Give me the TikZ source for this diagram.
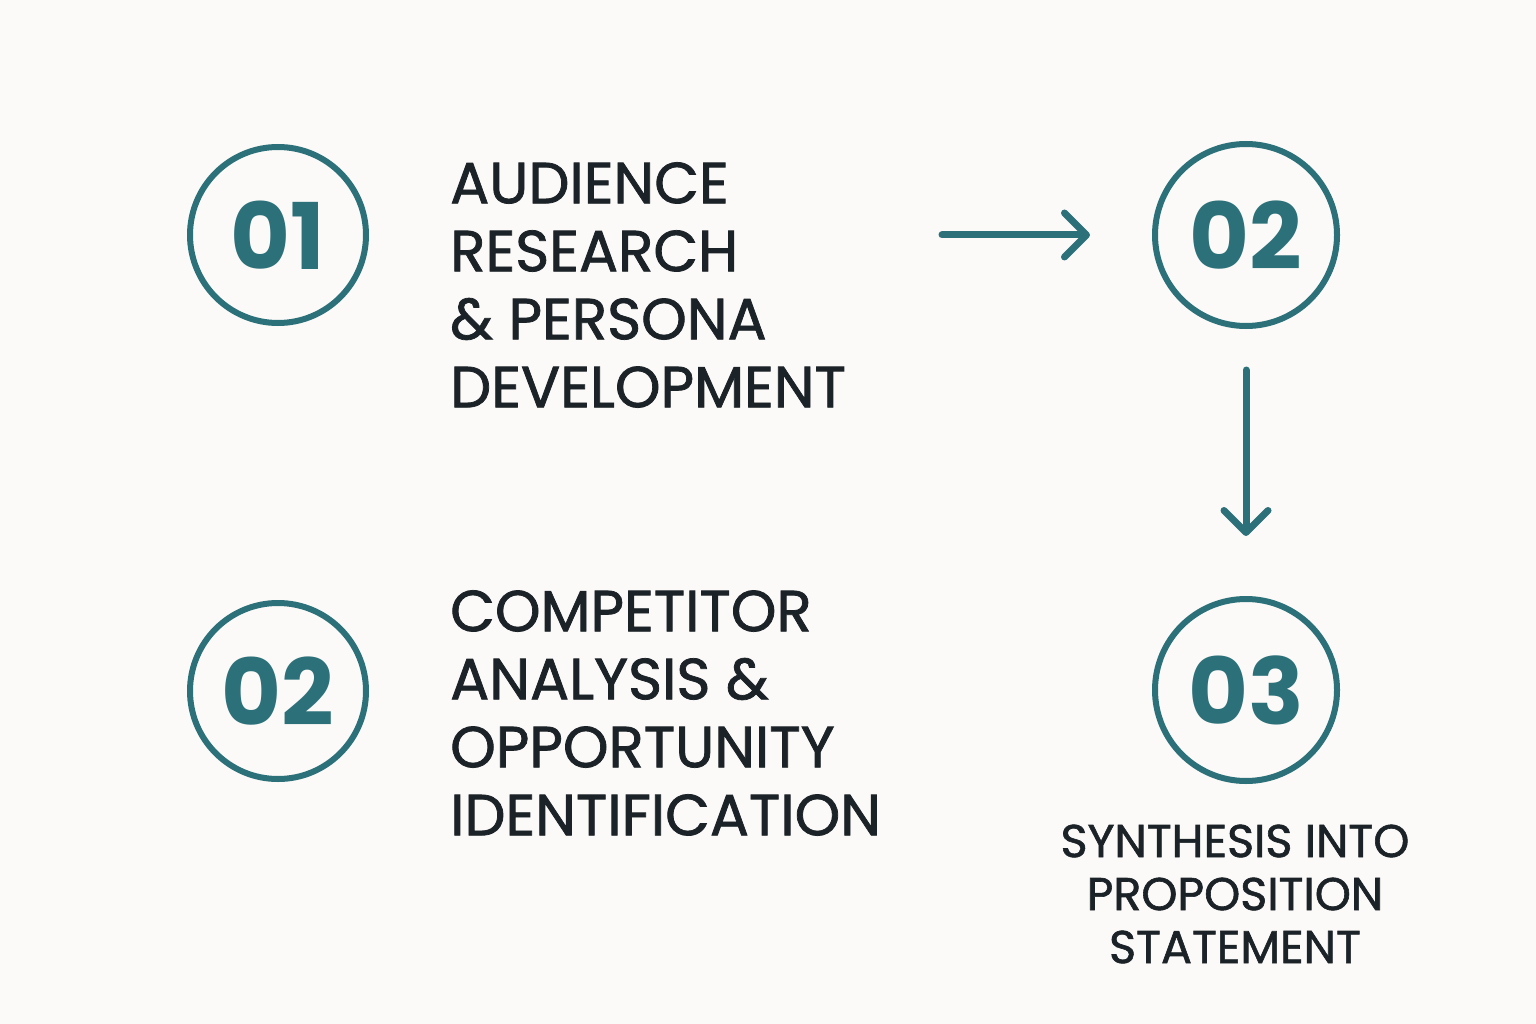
\documentclass[tikz,border=0pt]{standalone}
\usepackage{fontspec}
\setmainfont{Poppins}
\newfontfamily\medfont{Poppins}[FakeBold=1.3]
\usetikzlibrary{arrows.meta}
\definecolor{teal1}{HTML}{2C7079}
\definecolor{ink}{HTML}{1C2328}
\definecolor{bg}{HTML}{FBFAF8}
\tikzset{
 num/.style={circle,draw=teal1,line width=6pt,minimum size=176pt,inner sep=0pt,text=teal1,font=\fontsize{92}{92}\selectfont\bfseries},
 lbl/.style={anchor=west,align=left,text=ink,font=\fontsize{58}{68}\selectfont\medfont,inner sep=0pt},
 conn/.style={draw=teal1,line width=7pt,line cap=round,-{Straight Barb[length=22pt,width=44pt,line cap=round,line join=round]}}
}
\begin{document}
\begin{tikzpicture}[x=1pt,y=-1pt]
\fill[bg] (0,0) rectangle (1536,1024);
\useasboundingbox (0,0) rectangle (1536,1024);
\node[num] (c1) at (278,235) {01};
\node[num,minimum size=182pt] (c2) at (1246,235) {02};
\node[num] (c2b) at (278,691) {02};
\node[num,minimum size=182pt] (c3) at (1246,690) {03};
\node[lbl] (t1) at (450,285) {AUDIENCE\\RESEARCH\\\& PERSONA\\DEVELOPMENT};
\node[lbl] (t2) at (450,713) {COMPETITOR\\ANALYSIS \&\\OPPORTUNITY\\IDENTIFICATION};
\node[align=center,text=ink,font=\fontsize{46}{53}\selectfont\medfont,inner sep=0pt] (t3) at (1235,894) {SYNTHESIS INTO\\PROPOSITION\\STATEMENT};
\coordinate (a1) at (942,235);
\coordinate (a2) at (1246,370);
\draw[conn] (a1) -- ([xshift=-62pt]c2.west);
\draw[conn] (a2) -- ([yshift=60pt]c3.north);
\end{tikzpicture}
\end{document}
